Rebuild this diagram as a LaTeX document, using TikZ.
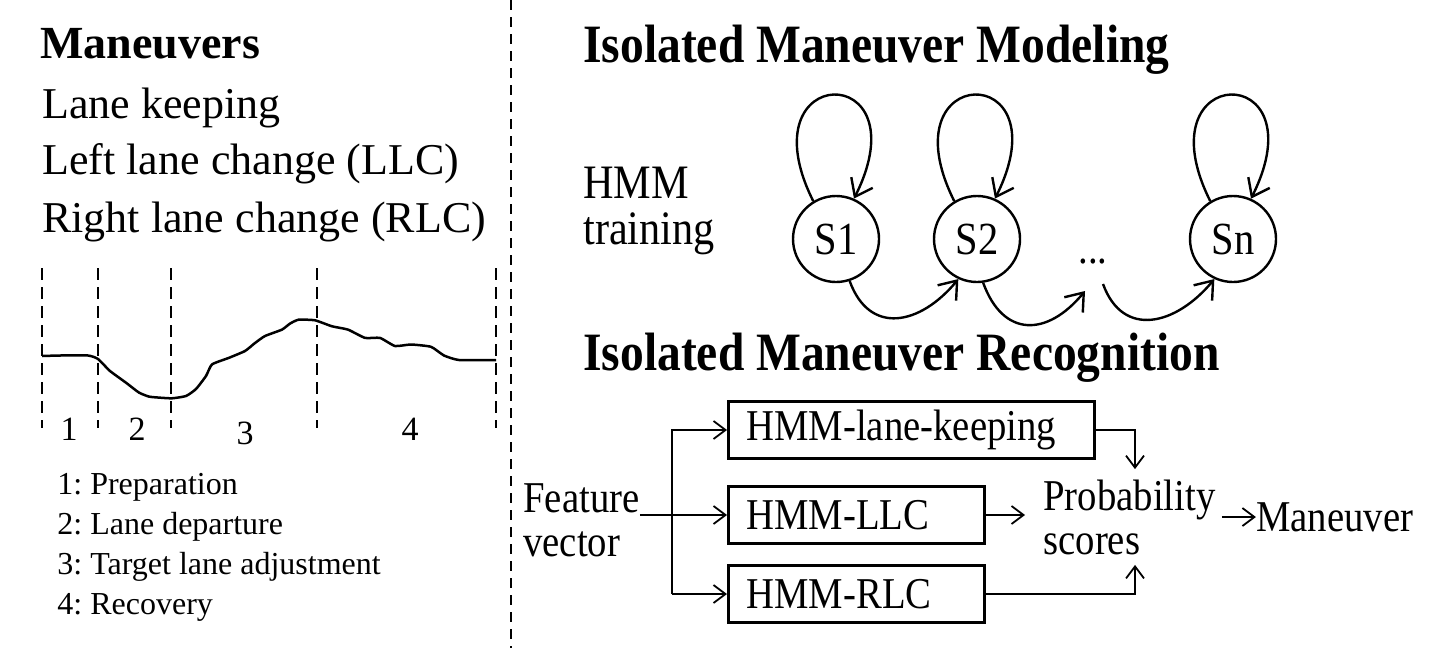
\documentclass[tikz,border=0pt]{standalone}
\usepackage{fontspec}
\setmainfont{Liberation Serif}
\newfontfamily\condfont[FakeStretch=0.88]{Liberation Serif}
\usetikzlibrary{arrows.meta, positioning}
\frenchspacing

\begin{document}
\begin{tikzpicture}[
    x=0.5pt, y=-0.5pt,
    title/.style={anchor=base west, inner sep=0pt, font=\bfseries\fontsize{23}{26}\selectfont},
    item/.style={anchor=base west, inner sep=0pt, font=\fontsize{22}{26}\selectfont},
    legend/.style={anchor=base west, inner sep=0pt, font=\fontsize{16}{19}\selectfont},
    phase/.style={anchor=base, inner sep=0pt, font=\fontsize{17}{20}\selectfont},
    heading/.style={anchor=base west, inner sep=0pt, font=\condfont\bfseries\fontsize{27}{30}\selectfont},
    rtext/.style={inner sep=0pt, align=left, font=\condfont\fontsize{22}{22}\selectfont},
    hmmstate/.style={circle, draw, line width=1.2pt, minimum size=43pt, inner sep=0pt, font=\condfont\fontsize{23}{23}\selectfont},
    hmmbox/.style={draw, line width=1.5pt, minimum height=28.5pt, inner xsep=9pt, align=left, anchor=west, font=\condfont\fontsize{22}{22}\selectfont},
    loopedge/.style={-{Straight Barb[length=8pt, width=12pt]}, line width=1.2pt},
    flow/.style={-{Straight Barb[length=6pt, width=9pt]}, line width=0.9pt},
    cut/.style={dash pattern=on 6pt off 3.5pt, line width=0.8pt}
]
    \useasboundingbox (0,0) rectangle (1438,648);

    % left part: maneuvers and phases
    \node[title] (mantitle) at (40,58) {Maneuvers};
    \node[item] (lk) at (42,118) {Lane keeping};
    \node[item] (llctxt) at (42,174) {Left lane change (LLC)};
    \node[item] (rlctxt) at (42,232.5) {Right lane change (RLC)};

    \foreach \x in {42,98,171,317,496}
        \draw[cut] (\x,268) -- (\x,428);
    \draw[line width=1.25pt, line join=round] plot[smooth, tension=0.3] coordinates {
        (42,356) (60,355.5) (88,355.5) (98,359) (110,371) (126,382.7) (139,392.6)
        (149,396.6) (159,397.6) (172,398.3) (186,396) (196,389) (206,376) (212,364.4)
        (229,357.8) (245,351) (255,343) (265,336) (282,329.6) (290,323.6) (298.5,319.7)
        (315,320.3) (332,326.3) (348,329.6) (365,337.9) (380,337.9) (395,346) (411,344.5)
        (431,346.8) (444,355.5) (459,360) (496,360)};

    \foreach \n/\x/\y in {1/69/440, 2/137/440, 3/245/444, 4/410/440}
        \node[phase] (ph\n) at (\x,\y) {\n};

    \node[legend] (lg1) at (57,494) {1: Preparation};
    \node[legend] (lg2) at (57,534) {2: Lane departure};
    \node[legend] (lg3) at (57,574) {3: Target lane adjustment};
    \node[legend] (lg4) at (57,614) {4: Recovery};

    \draw[dash pattern=on 5pt off 3.5pt, line width=0.8pt] (511,0) -- (511,648);

    % modeling
    \node[heading] (model) at (583,62) {Isolated Maneuver Modeling};
    \node[rtext, anchor=north west, font=\condfont\fontsize{24}{23}\selectfont] (train) at (583,167) {HMM\\training};

    \node[hmmstate] (s1) at (836,239) {S1};
    \node[hmmstate] (s2) at (977,239) {S2};
    \node[rtext] (dots) at (1093,262) {...};
    \node[hmmstate] (sn) at (1233,239) {Sn};
    \coordinate (dotin) at (1085,291);
    \coordinate (dotout) at (1103,284);

    \foreach \s in {s1,s2,sn}
        \draw[loopedge] (\s.121) .. controls +(-70,-140) and +(70,-140) .. (\s.66);
    \draw[loopedge] (s1.-72) .. controls +(20,55) and +(-38,46) .. (s2.-115);
    \draw[loopedge] (s2.-82) .. controls +(20,55) and +(-38,46) .. (dotin);
    \draw[loopedge] (dotout) .. controls +(20,55) and +(-38,46) .. (sn.-115);

    % recognition
    \node[heading] (recog) at (583,370) {Isolated Maneuver Recognition};

    \node[rtext, anchor=west] (feat) at (523,520) {Feature\\vector};
    \node[hmmbox, text width=165pt] (keep) at (727,430) {HMM-lane-keeping};
    \node[hmmbox, text width=110pt] (llc) at (727,515) {HMM-LLC};
    \node[hmmbox, text width=110pt] (rlc) at (727,594) {HMM-RLC};
    \node[rtext, anchor=west, inner xsep=3pt, inner ysep=5pt] (prob) at (1037,517) {Probability\\scores};
    \node[rtext, right=17pt of prob] (man) {Maneuver};

    \coordinate (split) at (672,0);
    \coordinate (join) at (1135,0);
    \draw[flow] (feat.east |- llc.west) -- (llc.west);
    \draw[flow] (split |- rlc.west) -- (split |- keep.west) -- (keep.west);
    \draw[flow] (split |- rlc.west) -- (rlc.west);
    \draw[flow] (keep.east) -| (join |- prob.north);
    \draw[flow] (rlc.east) -| (join |- prob.south);
    \draw[flow, shorten >=6pt] (llc.east) -- (prob.west |- llc.east);
    \draw[flow] (prob.east) -- (man.west);
\end{tikzpicture}
\end{document}
